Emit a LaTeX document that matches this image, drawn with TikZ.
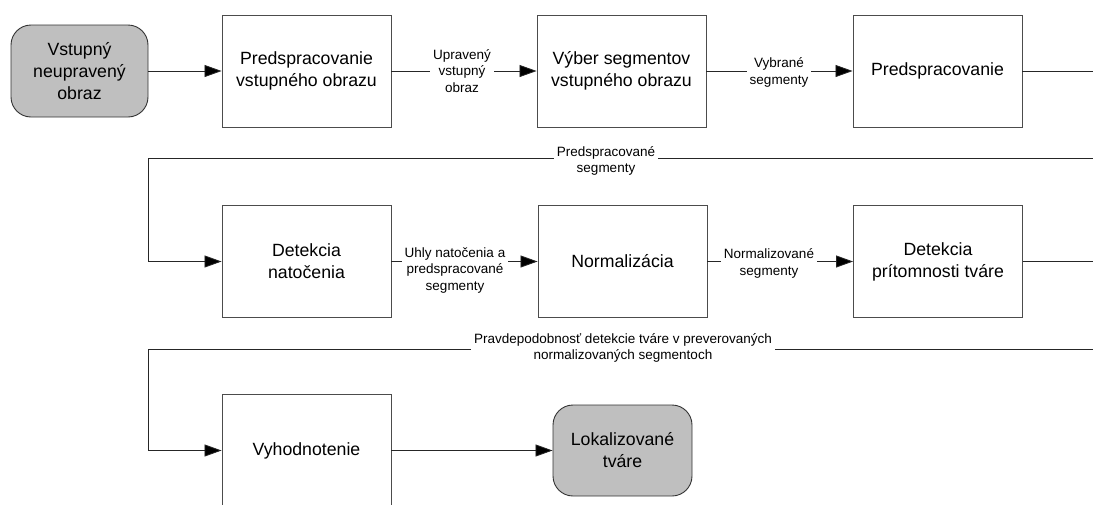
\documentclass[tikz,border=0pt]{standalone}
\usepackage{fontspec}
\setmainfont{Liberation Sans}
\usetikzlibrary{arrows.meta}
\begin{document}
\begin{tikzpicture}[x=1pt,y=-1pt,
  proc/.style={draw=black!70, line width=0.9pt, minimum width=169pt, minimum height=112pt,
    align=center, font=\fontsize{17.7}{22}\selectfont, inner sep=0pt},
  term/.style={draw=black!80, fill=black!25, rounded corners=20pt, line width=0.9pt,
    minimum width=137pt, minimum height=92pt, align=center,
    font=\fontsize{17.7}{22}\selectfont, inner sep=0pt},
  lab/.style={align=center, font=\fontsize{13.5}{16.5}\selectfont, inner sep=3pt},
  link/.style={line width=0.8pt, black!85},
  flow/.style={link, -{Triangle[length=17pt,width=12pt,fill=black]}}]
  \clip (0,0) rectangle (1093,504);
  \useasboundingbox (0,0) rectangle (1093,504);

  % row 1
  \node[term] (start) at (79.5,71) {Vstupný\\neupravený\\obraz};
  \node[proc] (b1) at (306.5,71) {Predspracovanie\\vstupného obrazu};
  \node[proc] (b2) at (621.5,71) {Výber segmentov\\vstupného obrazu};
  \node[proc] (b3) at (937.5,71) {Predspracovanie};
  \node[lab] (l1) at (462,71) {Upravený\\vstupný\\obraz};
  \node[lab] (l2) at (779,72.5) {Vybrané\\segmenty};

  % row 2
  \node[proc] (b4) at (306.5,261.5) {Detekcia\\natočenia};
  \node[proc] (b5) at (622.5,261.5) {Normalizácia};
  \node[proc] (b6) at (938,261.5) {Detekcia\\prítomnosti tváre};
  \node[lab] (l3) at (606,161) {Predspracované\\segmenty};
  \node[lab] (l4) at (455,270) {Uhly natočenia a\\predspracované\\segmenty};
  \node[lab] (l5) at (769,263.5) {Normalizované\\segmenty};

  % row 3
  \node[proc] (b7) at (306.5,450.5) {Vyhodnotenie};
  \node[term, minimum width=139pt, minimum height=91pt] (end) at (622.5,450.5) {Lokalizované\\tváre};
  \node[lab] (l6) at (623,348) {Pravdepodobnosť detekcie tváre v preverovaných\\normalizovaných segmentoch};

  % edge coordinates and corners of the wrapped connectors
  \coordinate (e1) at (1093,71);
  \coordinate (e2) at (1093,158);
  \coordinate (c1) at (148,158);
  \coordinate (e3) at (1093,261.5);
  \coordinate (e4) at (1093,349);
  \coordinate (c2) at (148,349);

  % row 1 connectors
  \draw[flow] (start) -- (b1);
  \draw[link] (b1) -- (l1);
  \draw[flow] (l1) -- (b2);
  \draw[link] (b2.east) -- (b2.east -| l2.west);
  \draw[flow] (l2.east |- b3.west) -- (b3.west);
  \draw[link] (b3.east) -- (e1);

  % wrap to row 2
  \draw[link] (e2) -- (e2 -| l3.east);
  \draw[flow] (l3.west |- e2) -- (c1) |- (b4.west);
  \draw[link] (b4.east) -- (b4.east -| l4.west);
  \draw[flow] (l4.east |- b5.west) -- (b5.west);
  \draw[link] (b5.east) -- (b5.east -| l5.west);
  \draw[flow] (l5.east |- b6.west) -- (b6.west);
  \draw[link] (b6.east) -- (e3);

  % wrap to row 3
  \draw[link] (e4) -- (e4 -| l6.east);
  \draw[flow] (l6.west |- e4) -- (c2) |- (b7.west);
  \draw[flow] (b7.east) -- (end.west);
\end{tikzpicture}
\end{document}
